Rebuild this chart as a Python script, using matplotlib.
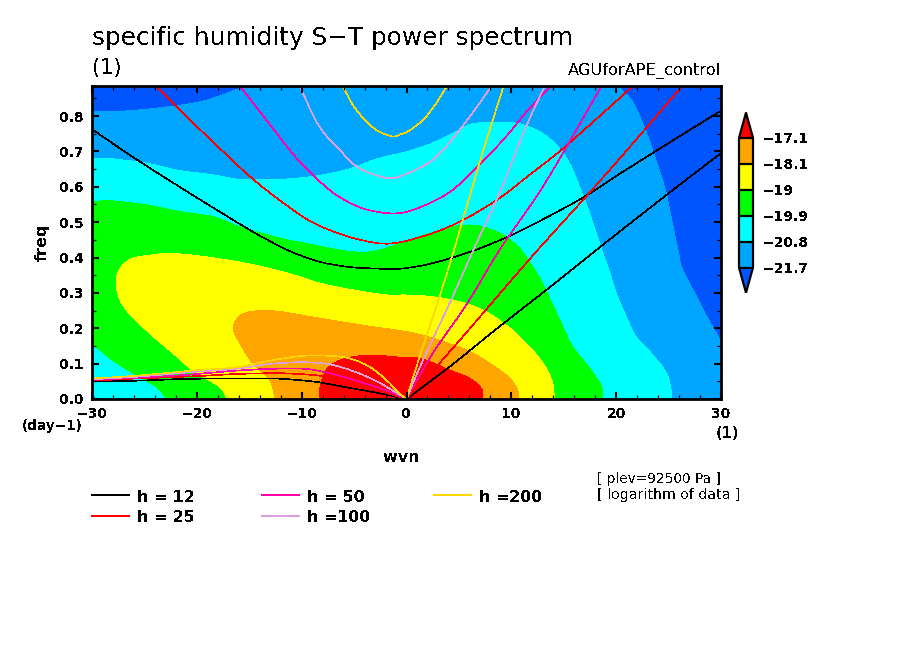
import matplotlib
matplotlib.use("Agg")
import matplotlib.pyplot as plt
from matplotlib.colors import ListedColormap, BoundaryNorm
from matplotlib.cm import ScalarMappable
from matplotlib.lines import Line2D
from matplotlib.path import Path
from matplotlib.patches import PathPatch

plt.rcParams['text.antialiased'] = False
plt.rcParams['font.family'] = ['DejaVu Sans']

W, H = 904, 654
XMIN, XMAX, YMIN, YMAX = -30, 30, 0, 0.885

levels = [-21.7, -20.8, -19.9, -19.0, -18.1, -17.1]
level_labels = ['\u221221.7', '\u221220.8', '\u221219.9', '\u221219', '\u221218.1', '\u221217.1']
fill_colors = ['#0055FF', '#00A5FF', '#00FFFF', '#00FF00', '#FFFF00', '#FFA500', '#FF0000']
x_major = [-30, -20, -10, 0, 10, 20, 30]
x_labels = ['\u221230', '\u221220', '\u221210', '0', '10', '20', '30']
y_major = [0.0, 0.1, 0.2, 0.3, 0.4, 0.5, 0.6, 0.7, 0.8]
x_minor = [-28, -26, -24, -22, -18, -16, -14, -12, -8, -6, -4, -2, 2, 4, 6, 8, 12, 14, 16, 18, 22, 24, 26, 28]
y_minor = [0.05, 0.15, 0.25, 0.35, 0.45, 0.55, 0.65, 0.75, 0.85]

# Filled regions (wavenumber, frequency)
below_left_x = [-30, -28, -24.84, -20.07, -17.84, -15.9, -15.3, -30]
below_left_y = [.815, .815, .822, .841, .860, .882, .885, .885]
below_right_x = [20.3, 21.6, 22.9, 23.8, 24.8, 25.4, 26.0, 26.35, 27.3, 28.6, 30, 30]
below_right_y = [.885, .846, .761, .685, .591, .506, .421, .374, .318, .243, .170, .885]
corner_x = [-30, -29.7, -30]
corner_y = [.02, 0, 0]

cyan_x = [-30, -28, -24.84, -21.66, -18.5, -15.9, -12.1, -8.97, -5.75, -2.58, 0.1, 2.5, 5.06, 6.3, 8.87,
          10.8, 12.7, 14.3, 15.55, 16.5, 17.46, 18.4, 19.4, 20.0, 20.96, 21.9, 23.5, 24.8, 25.25, 25.3, -30]
cyan_y = [.679, .679, .667, .646, .634, .621, .621, .629, .648, .681, .700, .724, .761, .778, .783,
          .778, .756, .718, .667, .600, .526, .441, .356, .300, .233, .176, .124, .073, .025, 0, 0]

green_x = [-30, -28.65, -24.84, -21.66, -18.5, -15.9, -12.1, -8.97, -5.75, -4.0, -2.58, 0.1, 1.24, 4.4, 6.0,
           7.25, 8.87, 10.1, 10.95, 12.7, 13.95, 14.9, 15.85, 17.46, 18.6, 18.7,
           -22.87, -23.9, -25.8, -28.05, -30]
green_y = [.556, .561, .549, .530, .516, .487, .455, .436, .418, .415, .421, .447, .459, .487, .492,
           .487, .470, .445, .421, .342, .266, .205, .148, .087, .035, 0,
           0, .035, .068, .110, .158]

yellow_x = [-17.1, -17.84, -20.07, -22.3, -24.4, -26.6, -27.4, -27.7, -27.4, -26.3, -24.4, -22.8, -19.9, -17.1,
            -14.5, -11.35, -8.2, -5.0, -1.8, 0.1, 2.5, 5.06, 7.25, 9.5, 11.4, 13.0, 13.95, 14.1]
yellow_y = [0, .035, .073, .130, .183, .247, .285, .327, .365, .396, .407, .412, .405, .393,
            .379, .356, .327, .308, .294, .294, .289, .275, .252, .209, .158, .102, .045, 0]

orange_x = [-12.5, -13.07, -14.7, -15.9, -16.5, -16.0, -14.9, -12.6, -8.2, -3.4, 0.1, 2.5, 5.7, 8.2, 9.83, 10.6, 10.7]
orange_y = [0, .054, .102, .158, .200, .233, .247, .249, .228, .205, .190, .172, .139, .096, .059, .025, 0]

red_x = [-8.3, -8.23, -7.66, -6.7, -5.44, -3.2, -0.67, 1.24, 4.1, 6.0, 7.13, 7.28]
red_y = [0, .035, .082, .105, .118, .124, .118, .115, .082, .059, .030, 0]

# Dispersion curves
ig12_x = [-30, -26.4, -21.66, -17.84, -14.66, -11.35, -8.3, -5.4, -2.1, -0.67, 2.2, 6.17, 9.83, 12.7, 16.8, 20.3, 24.8, 30]
ig12_y = [.763, .690, .600, .530, .473, .421, .388, .373, .368, .368, .382, .417, .461, .503, .569, .636, .720, .815]
kelvin12_x = [0, 4.1, 8.87, 13.33, 18.1, 24.8, 30]
kelvin12_y = [0, .091, .205, .308, .421, .577, .695]
rossby12_x = [-30, -26.6, -20.6, -12.8, -10.5, -8.3, -5.75, -2.9, 0]
rossby12_y = [.050, .051, .057, .058, .054, .047, .033, .018, 0]

ig25_x = [-23.85, -21.97, -18.5, -14.66, -11.5, -8.94, -5.75, -2.58, -0.67, 2.5, 5.4, 8.87, 11.74, 14.6, 18.73, 21.6]
ig25_y = [.885, .827, .728, .622, .549, .499, .461, .440, .443, .469, .506, .568, .634, .700, .808, .885]
kelvin25_x = [0, 3.15, 7.28, 12.5, 17.0, 21.6, 26.3]
kelvin25_y = [0, .101, .242, .421, .568, .723, .885]
rossby25_x = [-30, -25.67, -19.7, -16.8, -12.8, -10.5, -8.3, -5.5, -2.9, 0]
rossby25_y = [.052, .058, .065, .070, .073, .071, .066, .050, .026, 0]

ig50_x = [-15.9, -14.0, -10.5, -8.78, -6.7, -4.17, -1.6, 0.1, 2.5, 4.4, 6.96, 9.5, 11.74, 13.8]
ig50_y = [.885, .813, .681, .629, .577, .539, .525, .530, .558, .591, .662, .742, .822, .885]
kelvin50_x = [0, 2.5, 5.7, 8.87, 13.0, 18.6]
kelvin50_y = [0, .129, .266, .421, .600, .885]
rossby50_x = [-30, -25.67, -20.6, -16.8, -13.07, -9.57, -6.7, -4.17, -1.94, 0]
rossby50_y = [.054, .060, .069, .079, .085, .085, .068, .046, .024, 0]

ig100_x = [-10.2, -8.3, -6.08, -4.48, -1.94, -0.67, 2.5, 5.06, 6.96, 8.1]
ig100_y = [.885, .770, .695, .652, .625, .629, .676, .761, .836, .885]
kelvin100_x = [0, 1.24, 4.4, 6.4, 8.87, 11.4, 13.2]
kelvin100_y = [0, .088, .289, .423, .582, .770, .885]
rossby100_x = [-30, -25.67, -20.6, -16.1, -13.07, -9.9, -7.35, -5.1, -2.9, -0.98, 0]
rossby100_y = [.056, .063, .076, .086, .099, .104, .098, .079, .051, .018, 0]

ig200_x = [-6.1, -4.8, -2.9, -1.3, -0.67, 0.1, 1.56, 2.83, 3.85]
ig200_y = [.885, .818, .761, .742, .747, .756, .789, .836, .885]
kelvin200_x = [0, 1.0, 3.15, 4.58, 6.96, 9.26]
kelvin200_y = [0, .096, .289, .426, .667, .885]
rossby200_x = [-30, -25.67, -20.6, -16.1, -13.07, -9.9, -7.35, -5.44, -3.53, -1.94, -0.67, 0]
rossby200_y = [.058, .066, .080, .090, .108, .122, .122, .115, .091, .054, .016, 0]

line_colors = ['#000000', '#FF0000', '#FF00AA', '#DDA0DD', '#FFD700']
legend_labels = ['h = 12', 'h = 25', 'h = 50', 'h =100', 'h =200']


def px(x, y):
    return x / W, 1 - y / H


def smooth_run(xs, ys):
    """Bezier segments through the read points (drawing only; adds no data)."""
    n = len(xs)
    if n == 2:
        return [(xs[1], ys[1])], [Path.LINETO]
    d = [(((xs[i + 1] - xs[i]) / 60) ** 2 + ((ys[i + 1] - ys[i]) / 0.885) ** 2) ** 0.5 for i in range(n - 1)]
    tx, ty = [], []
    for i in range(n):
        a, b = max(i - 1, 0), min(i + 1, n - 1)
        span = sum(d[a:b])
        tx.append((xs[b] - xs[a]) / span)
        ty.append((ys[b] - ys[a]) / span)
    verts, codes = [], []
    for i in range(n - 1):
        verts += [(xs[i] + tx[i] * d[i] / 3, ys[i] + ty[i] * d[i] / 3),
                  (xs[i + 1] - tx[i + 1] * d[i] / 3, ys[i + 1] - ty[i + 1] * d[i] / 3),
                  (xs[i + 1], ys[i + 1])]
        codes += [Path.CURVE4] * 3
    return verts, codes


def smooth_path(xs, ys, corners=(), closed=False):
    stops = [0] + list(corners) + [len(xs) - 1]
    verts, codes = [(xs[0], ys[0])], [Path.MOVETO]
    for a, b in zip(stops[:-1], stops[1:]):
        v, c = smooth_run(xs[a:b + 1], ys[a:b + 1])
        verts += v
        codes += c
    if closed:
        verts.append((xs[0], ys[0]))
        codes.append(Path.CLOSEPOLY)
    return Path(verts, codes)


fig = plt.figure(figsize=(W / 100, H / 100), dpi=100, facecolor='white')
ax = fig.add_axes([92 / W, 1 - 399 / H, (721 - 92) / W, (399 - 86) / H], facecolor=fill_colors[1])


def region(xs, ys, color, corners=()):
    ax.add_patch(PathPatch(smooth_path(xs, ys, corners, closed=True), facecolor=color, edgecolor='none',
                           linewidth=0, antialiased=False))


region(below_left_x, below_left_y, fill_colors[0], corners=[1, 6])
region(below_right_x, below_right_y, fill_colors[0], corners=[10])
region(cyan_x, cyan_y, fill_colors[2], corners=[1, 29])
region(corner_x, corner_y, fill_colors[1], corners=[1])
region(green_x, green_y, fill_colors[3], corners=[25, 26])
region(yellow_x, yellow_y, fill_colors[4])
region(orange_x, orange_y, fill_colors[5])
region(red_x, red_y, fill_colors[6])

curves = [
    (ig12_x, ig12_y, kelvin12_x, kelvin12_y, rossby12_x, rossby12_y),
    (ig25_x, ig25_y, kelvin25_x, kelvin25_y, rossby25_x, rossby25_y),
    (ig50_x, ig50_y, kelvin50_x, kelvin50_y, rossby50_x, rossby50_y),
    (ig100_x, ig100_y, kelvin100_x, kelvin100_y, rossby100_x, rossby100_y),
    (ig200_x, ig200_y, kelvin200_x, kelvin200_y, rossby200_x, rossby200_y),
]
for color, group in zip(line_colors, curves):
    for i in range(0, 6, 2):
        ax.add_patch(PathPatch(smooth_path(group[i], group[i + 1]), facecolor='none', edgecolor=color,
                               linewidth=0.45, antialiased=False))

ax.set_xlim(XMIN, XMAX)
ax.set_ylim(YMIN, YMAX)
ax.set_xticks(x_major)
ax.set_xticklabels(x_labels)
ax.set_yticks(y_major)
ax.set_yticklabels([f'{v:.1f}' for v in y_major])
ax.set_xticks(x_minor, minor=True)
ax.set_yticks(y_minor, minor=True)
ax.tick_params(which='major', direction='in', length=5.2, width=1.5, top=True, right=True, labelsize=10)
ax.tick_params(which='minor', direction='in', length=2.6, width=0.9, top=True, right=True)
ax.tick_params(axis='x', which='major', pad=5.5)
ax.tick_params(axis='y', which='major', pad=5.5)
for lab in ax.get_xticklabels() + ax.get_yticklabels():
    lab.set_fontweight('bold')
for s in ax.spines.values():
    s.set_linewidth(2.0)

# Colour bar
cax = fig.add_axes([739 / W, 1 - 292.7 / H, 14 / W, 180 / H])
cmap = ListedColormap(fill_colors[1:6])
cmap.set_under(fill_colors[0])
cmap.set_over(fill_colors[6])
norm = BoundaryNorm(levels, cmap.N)
cb = fig.colorbar(ScalarMappable(norm=norm, cmap=cmap), cax=cax, extend='both', extendfrac=0.194,
                  ticks=levels, drawedges=True, spacing='uniform')
cb.ax.set_yticklabels(level_labels, fontweight='bold', fontsize=10)
cb.ax.tick_params(length=0, pad=7)
cb.ax.minorticks_off()
cb.outline.set_linewidth(1.6)
cb.dividers.set_linewidth(1.6)


# Text
def label(x, y, s, size, weight='normal', ha='left', rotation=0):
    fx, fy = px(x, y)
    fig.text(fx, fy, s, fontsize=size, fontweight=weight, ha=ha, va='center', rotation=rotation)


label(92, 38, 'specific humidity S\u2212T power spectrum', 17.8)
label(92, 68, '(1)', 15)
label(721, 71, 'AGUforAPE_control', 11.7, ha='right')
label(22, 426, '(day\u22121)', 9.8, weight='bold')
label(716, 433, '(1)', 10.5, weight='bold')
label(402, 457, 'wvn', 11.5, weight='bold', ha='center')
label(42, 242, 'freq', 11.5, weight='bold', ha='center', rotation=90)
label(597, 479, '[ plev=92500 Pa ]', 9.8)
label(597, 495, '[ logarithm of data ]', 10.2)

# Legend
entries = [(0, 92, 495), (1, 92, 516), (2, 262, 495), (3, 262, 516), (4, 434, 495)]
for idx, x0, y0 in entries:
    x1, fy = px(x0, y0)
    x2, _ = px(x0 + 37, y0)
    fig.add_artist(Line2D([x1, x2], [fy, fy], color=line_colors[idx], lw=1.1, antialiased=False,
                          transform=fig.transFigure))
    label(x0 + 45, y0 + 2, legend_labels[idx], 11.4, weight='bold')

fig.savefig('out.png', dpi=100)
